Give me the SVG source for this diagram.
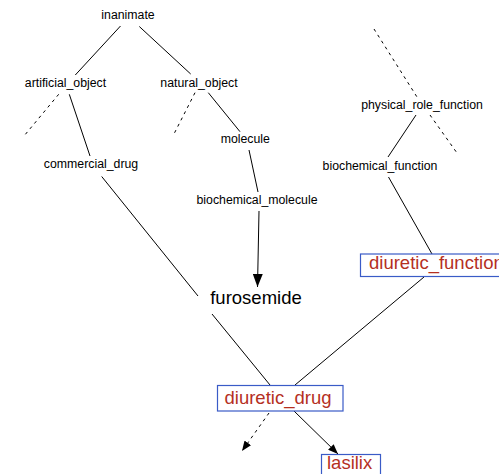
<svg xmlns="http://www.w3.org/2000/svg" width="499" height="474" viewBox="0 0 499 474">
<style>
.s{font-family:"Liberation Sans",Arial,sans-serif;font-size:12.3px;fill:#000;text-anchor:middle}
.b{font-family:"Liberation Sans",Arial,sans-serif;font-size:18.5px;fill:#000;text-anchor:middle}
.r{font-family:"Liberation Sans",Arial,sans-serif;font-size:18.5px;fill:#b5301f}
.box{fill:#fff;stroke:#3a5bc7;stroke-width:1.2}
.e{stroke:#000;stroke-width:1;fill:none}
.d{stroke-dasharray:3 4}
</style>
<defs>
<marker id="big" markerUnits="userSpaceOnUse" markerWidth="13" markerHeight="10" refX="13" refY="5" orient="auto"><path d="M0,0 L13,5 L0,10 z" fill="#000"/></marker>
<marker id="sm" markerUnits="userSpaceOnUse" markerWidth="10" markerHeight="8" refX="10" refY="4" orient="auto"><path d="M0,0 L10,4 L0,8 z" fill="#000"/></marker>
</defs>
<g id="connectors">
<line class="e" x1="120.5" y1="26" x2="75.3" y2="75"/>
<line class="e" x1="139.3" y1="26.5" x2="190.7" y2="74"/>
<line class="e d" x1="58.7" y1="94.3" x2="24" y2="136"/>
<line class="e" x1="69.3" y1="94.3" x2="90" y2="156"/>
<line class="e d" x1="195" y1="92.7" x2="174.3" y2="133.3"/>
<line class="e" x1="208.3" y1="92.7" x2="240" y2="131.7"/>
<line class="e" x1="249" y1="150" x2="258" y2="192"/>
<line class="e" x1="259" y1="211" x2="257.5" y2="287" marker-end="url(#big)"/>
<line class="e" x1="101.7" y1="176.5" x2="198" y2="296"/>
<line class="e" x1="212" y1="314" x2="270" y2="385"/>
<line class="e" x1="424" y1="277" x2="295" y2="385"/>
<line class="e" x1="388.5" y1="177" x2="432" y2="254"/>
<line class="e d" x1="374" y1="29" x2="417" y2="97"/>
<line class="e d" x1="430" y1="115" x2="457" y2="153"/>
<line class="e" x1="416" y1="115" x2="388" y2="157"/>
<line class="e d" x1="269" y1="413" x2="242" y2="451" marker-end="url(#sm)"/>
<line class="e" x1="294" y1="411" x2="338" y2="454" marker-end="url(#sm)"/>
</g>
<g id="inanimate"><text class="s" x="128" y="19">inanimate</text></g>
<g id="artificial_object"><text class="s" x="65.5" y="87">artificial_object</text></g>
<g id="natural_object"><text class="s" x="199" y="87">natural_object</text></g>
<g id="commercial_drug"><text class="s" x="91" y="168">commercial_drug</text></g>
<g id="molecule"><text class="s" x="245.3" y="143">molecule</text></g>
<g id="biochemical_molecule"><text class="s" x="257" y="204">biochemical_molecule</text></g>
<g id="physical_role_function"><text class="s" x="422" y="109">physical_role_function</text></g>
<g id="biochemical_function"><text class="s" x="380" y="170">biochemical_function</text></g>
<g id="furosemide"><text class="b" x="256" y="304">furosemide</text></g>
<g id="diuretic_function"><rect class="box" x="360.5" y="254" width="150" height="22.5"/><text class="r" x="369" y="269">diuretic_function</text></g>
<g id="diuretic_drug"><rect class="box" x="217.5" y="385.5" width="125.5" height="25.5"/><text class="r" x="224.5" y="404">diuretic_drug</text></g>
<g id="lasilix"><rect class="box" x="321.5" y="454.5" width="59" height="25"/><text class="r" x="327" y="469">lasilix</text></g>
</svg>
